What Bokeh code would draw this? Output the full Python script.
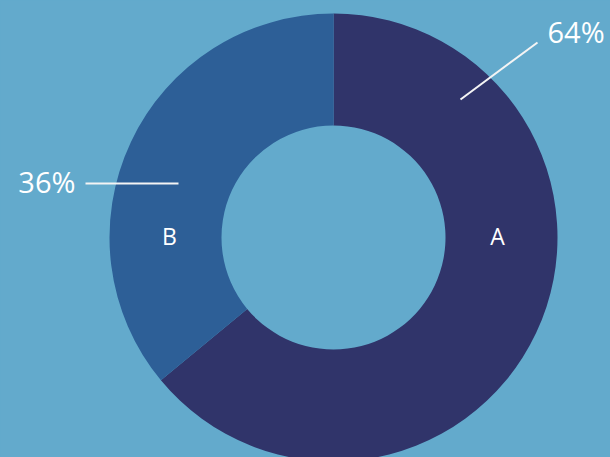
import math
from bokeh.plotting import figure
from bokeh.models import ColumnDataSource, Range1d
from bokeh.core.properties import value
from bokeh.embed import file_html
from bokeh.resources import INLINE

categories = ["A", "B"]
values = [64, 36]
colors = ["#30346a", "#2d5f97"]
bg = "#63aacc"

W, H = 610, 457
p = figure(width=W, height=H, output_backend="svg", toolbar_location=None,
           x_range=Range1d(0, W), y_range=Range1d(0, H), min_border=0)
p.axis.visible = False
p.grid.visible = False
p.outline_line_color = None
p.background_fill_color = bg
p.border_fill_color = bg

cx, cy = 333, 220
r_in, r_out = 112, 224

total = sum(values)
starts, ends = [], []
a = math.pi / 2
for v in values:
    starts.append(a)
    a -= 2 * math.pi * v / total
    ends.append(a)

src = ColumnDataSource(dict(start=starts, end=ends, color=colors, cat=categories))
p.annular_wedge(x=cx, y=cy, inner_radius=r_in, outer_radius=r_out,
                start_angle="start", end_angle="end", direction="clock",
                fill_color="color", line_color=None, source=src)

# category labels inside the ring
lab_r = 164
lab_angles = [0.0, math.pi]
p.text(x=[cx + lab_r * math.cos(t) for t in lab_angles],
       y=[cy + 2 + lab_r * math.sin(t) for t in lab_angles],
       text=categories, text_align="center", text_baseline="middle",
       text_color="white", text_font=value("Open Sans"), text_font_size="23px")

# percentage labels with leader lines
pct = [f"{round(100 * v / total)}%" for v in values]
p.segment(x0=[460, 85], y0=[358, 274], x1=[537, 178], y1=[415, 274],
          line_color="#f4f4f4", line_width=2)
p.text(x=[547], y=[426], text=[pct[0]], text_align="left", text_baseline="middle",
       text_color="white", text_font=value("Open Sans"), text_font_size="29px")
p.text(x=[75], y=[276], text=[pct[1]], text_align="right", text_baseline="middle",
       text_color="white", text_font=value("Open Sans"), text_font_size="29px")

html = file_html(p, INLINE)
html = html.replace("<head>", "<head><style>html,body{background:%s;overflow:hidden;}</style>" % bg, 1)
open("out.html", "w").write(html)
